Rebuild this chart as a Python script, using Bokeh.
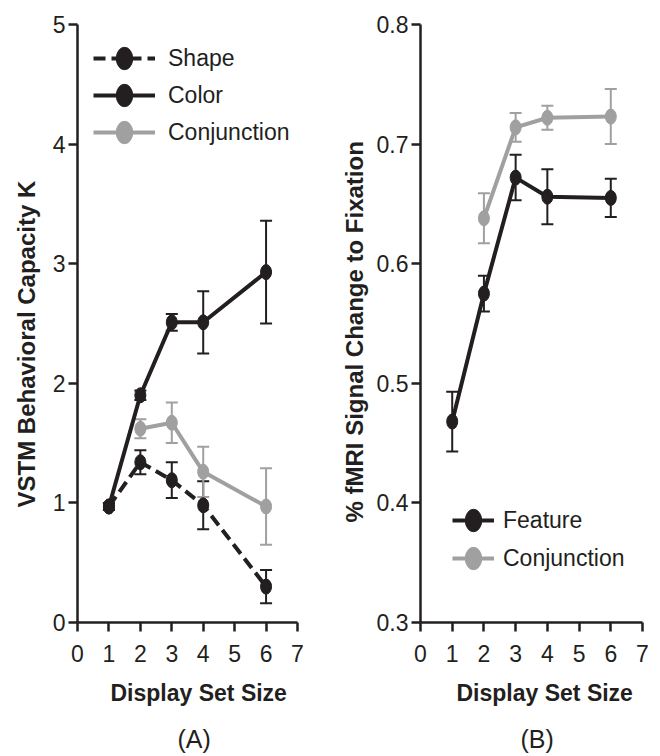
from bokeh.plotting import figure
from bokeh.models import (Range1d, FixedTicker, ColumnDataSource, Whisker, TeeHead,
                          Legend, LegendItem, Title)
from bokeh.layouts import row
from bokeh.embed import file_html
from bokeh.resources import INLINE

# ---------------- data ----------------
# Panel A: VSTM behavioral capacity K
shape_x = [1, 2, 3, 4, 6]
shape_y = [0.97, 1.34, 1.19, 0.98, 0.30]
shape_err = [0.03, 0.10, 0.15, 0.20, 0.14]

color_x = [1, 2, 3, 4, 6]
color_y = [0.97, 1.90, 2.51, 2.51, 2.93]
color_err = [0.03, 0.04, 0.07, 0.26, 0.43]

conjA_x = [2, 3, 4, 6]
conjA_y = [1.62, 1.67, 1.26, 0.97]
conjA_err = [0.08, 0.17, 0.21, 0.32]

# Panel B: % fMRI signal change to fixation
feat_x = [1, 2, 3, 4, 6]
feat_y = [0.468, 0.575, 0.672, 0.656, 0.655]
feat_err = [0.025, 0.015, 0.019, 0.023, 0.016]

conjB_x = [2, 3, 4, 6]
conjB_y = [0.638, 0.714, 0.722, 0.723]
conjB_err = [0.021, 0.012, 0.010, 0.023]

x_ticks = [0, 1, 2, 3, 4, 5, 6, 7]
yA_ticks = [0, 1, 2, 3, 4, 5]
yB_ticks = [0.3, 0.4, 0.5, 0.6, 0.7, 0.8]

BLACK = "#231f20"
GRAY = "#a0a0a0"
FONT = "Liberation Sans"


def make_fig(yr, yticks, ylabel, panel, left_border, frame_w, right_border,
             xlab_off, ylab_off, panel_off, ylab_standoff):
    p = figure(frame_width=frame_w, frame_height=598, output_backend="svg",
               toolbar_location=None, x_range=Range1d(0, 7), y_range=yr,
               min_border_left=left_border, min_border_right=right_border,
               min_border_top=24, min_border_bottom=134,
               background_fill_color=None, border_fill_color="white")
    p.outline_line_color = None
    p.xgrid.visible = False
    p.ygrid.visible = False
    p.xaxis.ticker = FixedTicker(ticks=x_ticks)
    p.yaxis.ticker = FixedTicker(ticks=yticks)
    for ax in (p.xaxis[0], p.yaxis[0]):
        ax.axis_line_color = BLACK
        ax.axis_line_width = 2.5
        ax.major_tick_line_color = BLACK
        ax.major_tick_line_width = 2.5
        ax.major_tick_out = 9
        ax.major_tick_in = 0
        ax.minor_tick_line_color = None
        ax.major_label_text_font = FONT
        ax.major_label_text_font_size = "23px"
        ax.major_label_text_color = BLACK
    p.xaxis.major_label_standoff = 13
    p.yaxis.major_label_standoff = 3
    xt = Title(text="Display Set Size", align="left", offset=xlab_off, text_font=FONT,
               text_font_size="23px", text_font_style="bold", text_color=BLACK, standoff=27)
    p.add_layout(xt, "below")
    pt = Title(text=panel, align="left", offset=panel_off, text_font=FONT,
               text_font_size="25px", text_font_style="normal", text_color=BLACK, standoff=6)
    p.add_layout(pt, "below")
    yt = Title(text=ylabel, align="left", offset=ylab_off, text_font=FONT,
               text_font_size="24px", text_font_style="bold", text_color=BLACK,
               standoff=ylab_standoff)
    p.add_layout(yt, "left")
    return p


def series(p, xs, ys, errs, color, dash="solid"):
    src = ColumnDataSource(dict(x=xs, y=ys,
                                lo=[a - e for a, e in zip(ys, errs)],
                                hi=[a + e for a, e in zip(ys, errs)]))
    w = Whisker(source=src, base="x", upper="hi", lower="lo", dimension="height",
                line_color=color, line_width=2,
                upper_head=TeeHead(size=12, line_color=color, line_width=2),
                lower_head=TeeHead(size=12, line_color=color, line_width=2))
    p.add_layout(w)
    ln = p.line("x", "y", source=src, line_color=color, line_width=4, line_dash=dash)
    el = p.ellipse("x", "y", source=src, width=11, height=15, width_units="screen",
                   height_units="screen", fill_color=color, line_color=color)
    return [ln, el]


# ---------------- panel A ----------------
pA = make_fig(Range1d(0, 5), yA_ticks, "VSTM Behavioral Capacity K", "(A)",
              77, 220, 33, 33, 115, 100, 20)
r_shape = series(pA, shape_x, shape_y, shape_err, BLACK, "12 6")
r_color = series(pA, color_x, color_y, color_err, BLACK)
r_conjA = series(pA, conjA_x, conjA_y, conjA_err, GRAY)
legA = Legend(items=[LegendItem(label="Shape", renderers=r_shape),
                     LegendItem(label="Color", renderers=r_color),
                     LegendItem(label="Conjunction", renderers=r_conjA)],
              location=(16, 476), orientation="vertical",
              glyph_width=62, glyph_height=28, label_height=28, label_standoff=13,
              spacing=9, padding=0, margin=0,
              label_text_font=FONT, label_text_font_size="23px", label_text_color=BLACK,
              border_line_color=None, background_fill_alpha=0)
pA.add_layout(legA, "center")

# ---------------- panel B ----------------
pB = make_fig(Range1d(0.3, 0.8), yB_ticks, "% fMRI Signal Change to Fixation", "(B)",
              90, 222, 18, 36, 100, 100, 12)
r_feat = series(pB, feat_x, feat_y, feat_err, BLACK)
r_conjB = series(pB, conjB_x, conjB_y, conjB_err, GRAY)
legB = Legend(items=[LegendItem(label="Feature", renderers=r_feat),
                     LegendItem(label="Conjunction", renderers=r_conjB)],
              location=(32, 50), orientation="vertical",
              glyph_width=42, glyph_height=28, label_height=28, label_standoff=9,
              spacing=10, padding=0, margin=0,
              label_text_font=FONT, label_text_font_size="23px", label_text_color=BLACK,
              border_line_color=None, background_fill_alpha=0)
pB.add_layout(legB, "center")

layout = row(pA, pB)
open("out.html", "w").write(file_html(layout, INLINE))
